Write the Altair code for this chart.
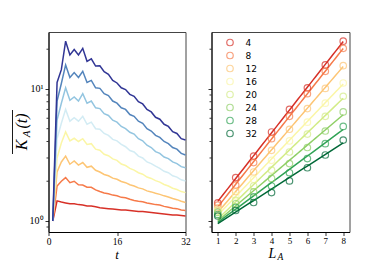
import altair as alt
import pandas as pd

t_values = list(range(1, 33))
L_values = [1, 2, 3, 4, 5, 6, 7, 8]
t_snap = [4, 8, 12, 16, 20, 24, 28, 32]

K_L1 = [1.0, 1.42, 1.39, 1.37, 1.35, 1.35, 1.33, 1.32, 1.30, 1.30, 1.28, 1.26, 1.25, 1.24, 1.23, 1.22,
        1.21, 1.21, 1.20, 1.19, 1.18, 1.18, 1.17, 1.16, 1.15, 1.14, 1.13, 1.12, 1.11, 1.11, 1.10, 1.09]
K_L2 = [1.0, 1.84, 2.00, 2.13, 1.95, 2.00, 1.88, 1.87, 1.80, 1.80, 1.72, 1.67, 1.63, 1.61, 1.57, 1.55,
        1.51, 1.50, 1.46, 1.43, 1.41, 1.40, 1.37, 1.35, 1.33, 1.32, 1.29, 1.27, 1.25, 1.24, 1.21, 1.20]
K_L3 = [1.0, 2.35, 2.80, 3.10, 2.69, 2.85, 2.65, 2.77, 2.55, 2.60, 2.42, 2.35, 2.25, 2.20, 2.11, 2.07,
        1.99, 1.95, 1.88, 1.84, 1.78, 1.75, 1.69, 1.66, 1.62, 1.59, 1.55, 1.52, 1.48, 1.45, 1.41, 1.38]
K_L4 = [1.0, 3.00, 3.90, 4.72, 4.04, 4.23, 4.00, 4.20, 3.80, 3.85, 3.50, 3.43, 3.20, 3.12, 2.95, 2.88,
        2.70, 2.63, 2.50, 2.43, 2.32, 2.26, 2.15, 2.10, 2.02, 1.97, 1.89, 1.84, 1.77, 1.73, 1.67, 1.64]
K_L5 = [1.0, 4.20, 5.50, 7.00, 5.70, 6.06, 5.70, 6.20, 5.40, 5.60, 5.00, 4.95, 4.60, 4.45, 4.15, 4.04,
        3.80, 3.65, 3.42, 3.33, 3.10, 3.00, 2.80, 2.72, 2.60, 2.50, 2.38, 2.32, 2.20, 2.15, 2.05, 2.01]
K_L6 = [1.0, 5.80, 7.80, 10.2, 8.20, 8.70, 8.10, 9.20, 7.80, 8.10, 7.20, 7.10, 6.50, 6.30, 5.80, 5.60,
        5.20, 5.00, 4.70, 4.55, 4.20, 4.05, 3.75, 3.60, 3.35, 3.25, 3.05, 2.97, 2.80, 2.72, 2.58, 2.53]
K_L7 = [1.0, 8.10, 11.0, 15.2, 12.2, 13.3, 12.2, 13.6, 11.2, 11.6, 10.2, 10.1, 9.20, 8.90, 8.10, 7.80,
        7.20, 7.00, 6.40, 6.20, 5.70, 5.50, 5.00, 4.80, 4.45, 4.30, 4.00, 3.85, 3.60, 3.50, 3.25, 3.16]
K_L8 = [1.0, 11.2, 14.0, 23.0, 18.1, 19.9, 18.1, 20.3, 16.2, 16.9, 14.9, 15.0, 13.5, 12.9, 11.6, 11.1,
        10.2, 9.90, 9.10, 8.80, 8.00, 7.70, 7.00, 6.70, 6.10, 5.90, 5.40, 5.20, 4.75, 4.60, 4.20, 4.10]

series = [K_L1, K_L2, K_L3, K_L4, K_L5, K_L6, K_L7, K_L8]

line_colors = ["#d73027", "#f67a49", "#fdc574", "#fbf6a6", "#d3ecf4", "#93c5e0", "#5485bc", "#313695"]
point_colors = ["#d73027", "#f67a49", "#fdc574", "#fbf6a6", "#d3ec87", "#8fcf66", "#30a355", "#006837"]

minor_ticks = [0.9, 2, 3, 4, 5, 6, 7, 8, 9, 20]

left_df = pd.DataFrame([
    {"t": t, "L": L, "K": series[i][j]}
    for i, L in enumerate(L_values) for j, t in enumerate(t_values)
])
right_df = pd.DataFrame([
    {"t": ts, "L": L, "K": series[i][ts - 1]}
    for ts in t_snap for i, L in enumerate(L_values)
])
minor_df = pd.DataFrame({"m": minor_ticks})

W, H = 137, 200
SERIF = "Liberation Serif"

yscale = alt.Scale(type="log", domain=[0.825, 27], nice=False)
left_yaxis = alt.Axis(values=[1, 10], title=None, grid=False,
                      labelExpr="datum.value == 1 ? '10⁰' : '10¹'")
right_yaxis = alt.Axis(values=[1, 10], title=None, grid=False, labels=False)
right_xscale = alt.Scale(domain=[0.65, 8.35], nice=False)
right_xaxis = alt.Axis(values=L_values, title=None, grid=False, labelFlush=False,
                       labelFontSize=9, labelOverlap=False, labelPadding=1)

def minor_layer(axis):
    return alt.Chart(minor_df).mark_rule(color="black", strokeWidth=0.8).encode(
        y=alt.Y("m:Q", scale=yscale, axis=axis),
        x=alt.value(-2),
        x2=alt.value(0),
    )

def txt(s, x, y, size, angle=0, baseline="middle"):
    return alt.Chart(pd.DataFrame({"s": [s]})).mark_text(
        font=SERIF, fontSize=size, fontStyle="italic", angle=angle,
        align="center", baseline=baseline, color="black",
    ).encode(x=alt.value(x), y=alt.value(y), text="s:N")

left_lines = alt.Chart(left_df).mark_line(strokeWidth=1.5).encode(
    x=alt.X("t:Q", scale=alt.Scale(domain=[0, 32], nice=False),
            axis=alt.Axis(values=[0, 16, 32], title=None, labelFlush=False, grid=False,
                          labelFontSize=9.5, labelPadding=1)),
    y=alt.Y("K:Q", scale=yscale, axis=left_yaxis),
    color=alt.Color("L:N", scale=alt.Scale(domain=L_values, range=line_colors), legend=None),
)

overline = alt.Chart(pd.DataFrame({"s": [0]})).mark_rule(color="black", strokeWidth=0.9).encode(
    x=alt.value(-36), y=alt.value(78), y2=alt.value(122)
)

left = alt.layer(
    left_lines, minor_layer(left_yaxis),
    txt("K", -27, 113, 16, 270), txt("A", -22, 102, 11, 270), txt("(t)", -27, 89, 16, 270),
    overline,
    txt("t", 68.5, 226.5, 13, baseline="alphabetic"),
).properties(width=W, height=H)

color_scale = alt.Scale(domain=t_snap, range=point_colors)
legend = alt.Legend(orient="none", legendX=14, legendY=6, title=None,
                    symbolType="circle", symbolSize=42, symbolStrokeWidth=1.2,
                    labelFont="DejaVu Sans", labelFontSize=9, labelOffset=11,
                    rowPadding=0)

points = alt.Chart(right_df).mark_point(filled=False, size=42, strokeWidth=1.2).encode(
    x=alt.X("L:Q", scale=right_xscale, axis=right_xaxis),
    y=alt.Y("K:Q", scale=yscale, axis=right_yaxis),
    color=alt.Color("t:O", scale=color_scale, legend=legend),
)

fits = alt.Chart(right_df).transform_regression(
    "L", "K", groupby=["t"], method="exp", extent=[1, 8]
).mark_line(strokeWidth=1.5).encode(
    x=alt.X("L:Q", scale=right_xscale, axis=right_xaxis),
    y=alt.Y("K:Q", scale=yscale, axis=right_yaxis),
    color=alt.Color("t:O", scale=color_scale, legend=legend),
)

right = alt.layer(
    fits, points, minor_layer(right_yaxis),
    txt("L", 61, 225.5, 14, baseline="alphabetic"), txt("A", 69, 227.5, 9.5, baseline="alphabetic"),
).properties(width=W + 1, height=H)

chart = alt.hconcat(left, right, spacing=15).resolve_scale(
    color="independent"
).configure_view(
    stroke="#444", strokeWidth=1
).configure_axis(
    labelFont=SERIF, labelFontSize=10, labelColor="black",
    tickColor="black", tickSize=3.5, tickWidth=0.8,
    domainColor="black", domainWidth=1, labelPadding=2,
).properties(
    padding={"left": 3.5, "top": 23, "right": 5, "bottom": 0}
)

chart.save("out.html", embed_options={"renderer": "svg", "actions": False})
